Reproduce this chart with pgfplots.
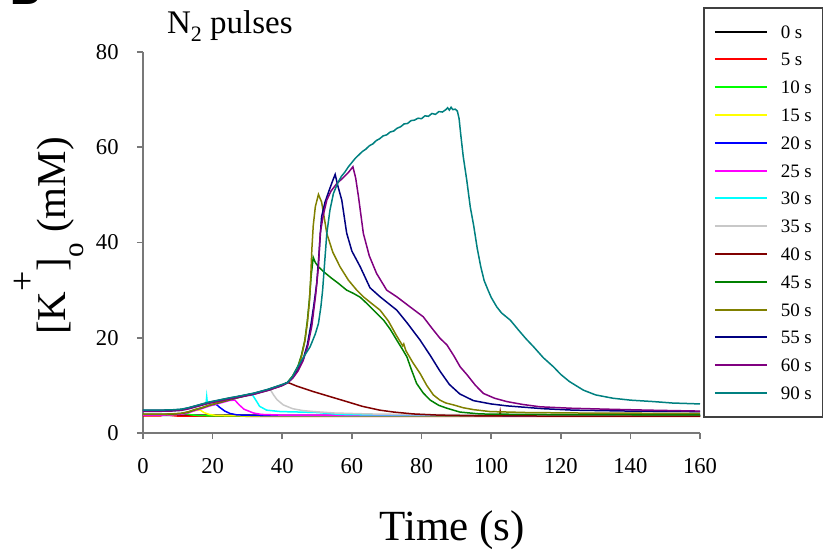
\documentclass[border=0pt]{standalone}
\usepackage{fontspec}
\setmainfont{Liberation Serif}
\newfontfamily\panelfont{Liberation Sans}
\usepackage{pgfplots}
\pgfplotsset{compat=1.18}

\definecolor{s00}{RGB}{0,0,0}
\definecolor{s05}{RGB}{255,0,0}
\definecolor{s10}{RGB}{0,255,0}
\definecolor{s15}{RGB}{255,255,0}
\definecolor{s20}{RGB}{0,0,255}
\definecolor{s25}{RGB}{255,0,255}
\definecolor{s30}{RGB}{0,255,255}
\definecolor{s35}{RGB}{200,200,200}
\definecolor{s40}{RGB}{128,0,0}
\definecolor{s45}{RGB}{0,128,0}
\definecolor{s50}{RGB}{128,128,0}
\definecolor{s55}{RGB}{0,0,128}
\definecolor{s60}{RGB}{128,0,128}
\definecolor{s90}{RGB}{0,128,128}
\definecolor{axgray}{RGB}{120,120,120}

\newcommand{\legtxt}[1]{\makebox[16pt][l]{#1}}

\begin{document}
\begin{tikzpicture}
\useasboundingbox (-71.5pt,-59pt) rectangle (340pt,216.5pt);
\begin{axis}[
    at={(0,0)}, anchor=south west,
    scale only axis,
    width=278.5pt, height=190.5pt,
    xmin=0, xmax=160, ymin=0, ymax=80,
    xtick={0,20,...,160}, ytick={0,20,...,80},
    axis lines=left,
    axis line style={-, draw=axgray, line width=0.8pt},
    tick align=outside,
    major tick length=3pt,
    tick style={draw=axgray, line width=0.8pt},
    /pgf/number format/assume math mode=true,
    tick label style={font=\fontsize{11.3}{13}\selectfont},
    yticklabel style={inner sep=0pt, anchor=east, xshift=-9pt},
    xticklabel style={inner sep=0pt, anchor=north, yshift=-9.5pt},
    xlabel={Time (s)},
    xlabel style={at={(axis description cs:0.555,-0.283)}, anchor=base,
        font=\fontsize{21.5}{23}\selectfont},
    ylabel={[K\raisebox{15.5pt}{\fontsize{18}{18}\selectfont +}]\raisebox{-9pt}{\fontsize{14.5}{15}\selectfont o} (mM)},
    ylabel style={at={(axis description cs:-0.140,0.517)}, anchor=base,
        font=\fontsize{20.5}{22}\selectfont},
    title={N\raisebox{-4pt}{\fontsize{11}{11}\selectfont 2} pulses},
    title style={at={(axis description cs:0.0305,1.016)}, anchor=base west,
        font=\fontsize{16.5}{18}\selectfont},
    every axis plot/.append style={line width=0.75pt},
    legend image code/.code={\draw[#1, line width=1pt] (0pt,0pt) -- (26pt,0pt);},
    legend cell align=left,
    legend style={
        at={(axis description cs:1.0054,1.1181)}, anchor=north west,
        draw=black!75, line width=0.75pt, fill=white,
        inner xsep=5pt, inner ysep=5pt,
        row sep=0pt, column sep=6.5pt,
        font=\fontsize{9.5}{10}\selectfont,
        nodes={inner sep=0pt, text height=10.2pt, text depth=3.7pt},
    },
]
% 0 s
\addplot[draw=s00] coordinates {(0,3.7) (20,3.75) (60,3.7) (100,3.65) (160,3.65)};
% 5 s
\addplot[draw=s05] coordinates {(0,3.6) (5,3.6) (6.5,3.9) (8,3.7) (10,3.55) (40,3.5) (160,3.5)};
% 10 s
\addplot[draw=s10] coordinates {(0,3.8) (4,3.8) (8,3.85) (11,4.0) (12,4.15) (13.5,3.85) (16,3.65) (20,3.6) (160,3.55)};
% 15 s
\addplot[draw=s15] coordinates {(0,3.8) (4,3.8) (8,3.85) (11,4.0) (13,4.3) (15,4.7) (16.4,4.85) (17.5,4.3) (19,3.9) (21,3.7) (30,3.6) (160,3.55)};
% 20 s
\addplot[draw=s20] coordinates {(0,3.85) (4,3.85) (8,3.9) (11,4.05) (13,4.35) (15,4.85) (17,5.25) (19,5.75) (21,6.05) (22,5.4) (23.5,4.6) (25,4.1) (27,3.8) (35,3.65) (160,3.6)};
% 25 s
\addplot[draw=s25] coordinates {(0,3.75) (4,3.75) (8,3.8) (11,3.95) (13,4.25) (15,4.75) (17,5.15) (19,5.65) (21,6.05) (23,6.45) (25,6.85) (26.4,6.9) (27.5,6.0) (29,5.0) (31.7,4.2) (34,3.9) (40,3.75) (160,3.7)};
% 30 s
\addplot[draw=s30] coordinates {(0,4.6) (4,4.6) (8,4.65) (11,4.8) (13,5.1) (15,5.5) (17,5.9) (18.1,6.1) (18.3,7.6) (18.5,6.2) (19,6.3) (21,6.6) (23,6.9) (25,7.2) (28,7.6) (30,7.9) (31.5,7.95) (32.5,6.8) (33.5,5.6) (35.5,4.8) (39.4,4.5) (45,4.4) (50,4.3) (56.6,3.9) (65,3.8) (160,3.75)};
% 35 s
\addplot[draw=s35] coordinates {(0,4.65) (4,4.65) (8,4.7) (11,4.85) (13,5.15) (15,5.55) (17,5.95) (19,6.35) (21,6.65) (23,6.95) (25,7.25) (28,7.65) (30,7.95) (32,8.25) (34,8.65) (36,9.05) (36.6,9.1) (37.5,8.0) (38.5,7.0) (40.3,5.9) (43,5.1) (46,4.7) (49,4.5) (55,4.2) (65,4.0) (80,3.85) (160,3.75)};
% 40 s
\addplot[draw=s40] coordinates {(0,4.7) (4,4.7) (8,4.75) (11,4.9) (13,5.2) (15,5.6) (17,6.0) (19,6.4) (21,6.7) (23,7.0) (25,7.3) (28,7.7) (30,8.0) (32,8.3) (34,8.7) (36,9.1) (38,9.6) (40,10.1) (41.5,10.6) (42,10.5) (44,9.9) (46,9.4) (48.9,8.7) (53,7.8) (58.5,6.6) (63,5.6) (68,4.8) (72,4.4) (77.7,4.0) (85,3.75) (97,3.6) (102.4,3.6) (102.6,4.5) (102.8,3.6) (120,3.55) (160,3.55)};
% 45 s
\addplot[draw=s45] coordinates {(0,3.9) (4,3.9) (8,3.95) (11,4.1) (13,4.4) (15,4.9) (17,5.3) (19,5.8) (21,6.2) (23,6.6) (25,7.0) (28,7.55) (30,7.9) (32,8.2) (34,8.6) (36,9.0) (38,9.5) (40,10.0) (41.5,10.6) (43,12.0) (44.5,14.0) (45.5,16.3) (46.5,19.5) (47.2,23.5) (47.8,28) (48.3,33) (48.9,36.9) (49.5,35.8) (50.4,34.9) (52,33.8) (54,32.6) (56,31.5) (58.5,30.0) (60.5,29.3) (62.4,28.5) (64.3,27.2) (66.5,25.6) (69.1,23.7) (71,21.8) (72.9,19.5) (74.5,17.6) (75.8,16.0) (77,13.5) (78.6,10.4) (80.5,8.4) (82.5,6.9) (85,5.8) (87.3,5.2) (91,4.4) (96.8,4.0) (110,3.9) (130,3.85) (160,3.8)};
% 50 s
\addplot[draw=s50] coordinates {(0,3.95) (4,3.95) (8,4.0) (11,4.15) (13,4.45) (15,4.95) (17,5.35) (19,5.85) (21,6.25) (23,6.65) (25,7.05) (28,7.6) (30,7.95) (32,8.25) (34,8.65) (36,9.05) (38,9.55) (40,10.05) (41.5,10.6) (43,11.9) (44.5,13.8) (45.5,16) (46.5,19.3) (47.2,23) (47.8,27.5) (48.2,33) (48.5,38.5) (48.9,43.5) (49.5,47.5) (50.4,50.1) (51.3,48.5) (52.0,45.5) (52.8,41.9) (54.5,38) (56.6,34.9) (59,32.1) (61.4,30.0) (63.3,28.6) (65.5,27.3) (68.1,25.8) (70.5,23.5) (72.7,20.6) (74.6,18.3) (74.9,18.7) (75.5,17.3) (77.5,14.8) (79.6,12.5) (81.5,10.0) (83.4,8.0) (85.3,6.9) (87,6.3) (89.2,5.9) (92,5.3) (95,4.9) (99.7,4.5) (110,4.3) (125,4.2) (160,4.1)};
% 55 s
\addplot[draw=s55] coordinates {(0,4.75) (4,4.75) (8,4.8) (11,4.95) (13,5.25) (15,5.65) (17,6.05) (19,6.45) (21,6.75) (23,7.05) (25,7.35) (28,7.75) (30,8.05) (32,8.35) (34,8.75) (36,9.15) (38,9.65) (40,10.1) (41.5,10.6) (43,11.6) (44.5,13.2) (46,15.5) (47.2,18.5) (48.3,23) (49.1,27) (49.9,31.4) (50.5,37) (51.3,45.4) (52.3,48.5) (53.5,51) (54.5,53) (55.2,54.3) (56,51.8) (57.1,48.9) (58.5,42) (60,38.2) (62.4,34.9) (65.2,30.5) (68.1,28.6) (70.5,27.2) (72.9,25.8) (76,23.0) (79.6,19.5) (82.5,16.3) (85.3,13.0) (88,10.2) (91,8.2) (94.9,6.8) (100,6.1) (104.5,5.7) (115,5.1) (123.6,4.8) (140,4.6) (160,4.5)};
% 60 s
\addplot[draw=s60] coordinates {(0,4.55) (4,4.55) (8,4.6) (11,4.75) (13,5.05) (15,5.45) (17,5.85) (19,6.25) (21,6.55) (23,6.85) (25,7.15) (28,7.55) (30,7.85) (32,8.15) (34,8.55) (36,8.95) (38,9.45) (40,9.95) (41.5,10.5) (43,11.5) (44.5,13) (46,15.2) (47.3,18.2) (48.5,22.5) (49.6,29) (50.4,35) (50.9,41.9) (51.8,45.8) (52.8,48.9) (54,50.8) (55.7,52.4) (57.5,53.6) (59,54.7) (60.3,55.9) (61.1,53.5) (61.9,49.6) (63.3,41.9) (65,37.2) (67.1,33.5) (70,30.0) (72.9,28.6) (76.5,26.6) (80.5,24.4) (83,22.0) (85.3,19.9) (87.3,18.5) (89.3,16.2) (91.1,13.9) (93,12.3) (95.5,10.0) (97.8,8.3) (101,7.3) (104.5,6.6) (109,6.0) (114.1,5.5) (123,5.2) (133.2,5.0) (145,4.8) (160,4.6)};
% 90 s
\addplot[draw=s90] coordinates {(0,4.8) (4,4.8) (8,4.85) (11,5.0) (13,5.3) (15,5.7) (17,6.1) (19,6.5) (21,6.8) (23,7.1) (25,7.4) (28,7.8) (30,8.1) (32,8.4) (34,8.8) (36,9.2) (38,9.7) (40,10.2) (41.5,10.6) (43,11.9) (44.2,13.6) (46,15.8) (48,18.1) (49.5,20.8) (50.4,23) (51.1,26.5) (51.6,30) (52.2,36) (52.8,41.9) (53.7,46.8) (54.7,50.3) (56,52.6) (57,53.9) (58,54.8) (59,55.9) (60,56.8) (61,57.7) (62,58.4) (63,59.1) (64,59.6) (65,60.3) (66,60.7) (67,61.4) (68,61.8) (69,62.4) (70,62.6) (71,63.2) (72,63.4) (73,64.0) (74,64.3) (75,64.9) (76,65.0) (77,65.6) (78,65.7) (79,66.1) (80,66.0) (81,66.6) (82,66.5) (83,67.1) (84,66.9) (85,67.5) (86,67.4) (87,67.9) (87.5,68.3) (88,67.8) (88.5,68.4) (89,67.9) (89.7,68.0) (90.3,67.6) (90.8,66.0) (91.3,62.5) (92,58) (93,53.1) (94,47.5) (95,43.5) (96,38.8) (97,35) (98,32) (99,30.2) (100,28.5) (101.6,26.5) (103,25.2) (105.5,23.7) (108,21.5) (110,19.8) (112.2,18.1) (115,15.8) (117.9,13.9) (120,12.3) (122.5,10.8) (126.5,9.0) (130,8.0) (135,7.3) (140,6.9) (146.6,6.6) (152,6.3) (160,6.1)};
\legend{\legtxt{0 s}, \legtxt{5 s}, \legtxt{10 s}, \legtxt{15 s}, \legtxt{20 s}, \legtxt{25 s}, \legtxt{30 s}, \legtxt{35 s}, \legtxt{40 s}, \legtxt{45 s}, \legtxt{50 s}, \legtxt{55 s}, \legtxt{60 s}, \legtxt{90 s}}
\end{axis}
\node[anchor=base west, inner sep=0pt, font=\panelfont\bfseries\fontsize{21}{21}\selectfont] at (-66.5pt,214pt) {B};
\end{tikzpicture}
\end{document}
